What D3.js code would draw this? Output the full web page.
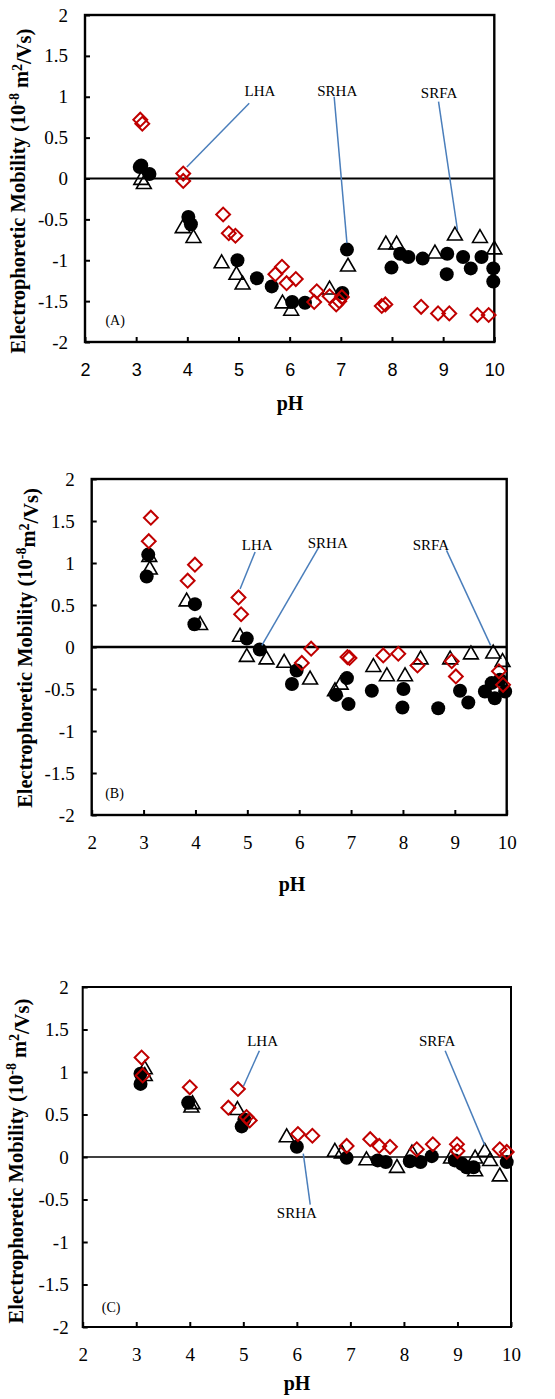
<!DOCTYPE html>
<html>
<head>
<meta charset="utf-8">
<script src="https://cdn.jsdelivr.net/npm/d3@7"></script>
<style>
  body { margin: 0; background: #fff; }
  svg { display: block; }
</style>
</head>
<body>
<svg id="chart" width="555" height="1399"></svg>
<script>
//  Data  //
var xTicks = [2, 3, 4, 5, 6, 7, 8, 9, 10];
var yTicks = [-2, -1.5, -1, -0.5, 0, 0.5, 1, 1.5, 2];
var panelNames = ["(A)", "(B)", "(C)"];

// panel A  [pH, mobility]
var srhaA = [[3.07,0.14],[3.1,0.16],[3.26,0.055],[4.02,-0.47],[4.07,-0.56],[4.98,-1.0],[5.36,-1.22],[5.65,-1.32],
             [6.05,-1.51],[6.3,-1.52],[7.03,-1.4],[7.12,-0.87],[7.99,-1.09],[8.16,-0.92],[8.32,-0.96],[8.6,-0.98],
             [9.08,-0.92],[9.07,-1.17],[9.39,-0.96],[9.54,-1.1],[9.75,-0.96],[9.98,-1.1],[9.98,-1.26]];
var srfaA = [[3.1,-0.02],[3.15,-0.07],[3.91,-0.61],[4.12,-0.73],[4.67,-1.04],[4.96,-1.18],[5.08,-1.3],[5.86,-1.53],
             [6.03,-1.62],[6.78,-1.36],[7.14,-1.08],[7.88,-0.81],[8.09,-0.81],[8.84,-0.92],[9.23,-0.7],[9.72,-0.73],[10.0,-0.87]];
var lhaA  = [[3.08,0.72],[3.12,0.67],[3.92,0.06],[3.92,-0.03],[4.7,-0.44],[4.81,-0.67],[4.94,-0.7],[5.72,-1.17],
             [5.85,-1.08],[5.94,-1.28],[6.12,-1.23],[6.53,-1.38],[6.48,-1.51],[6.78,-1.44],[6.91,-1.54],[6.97,-1.5],
             [7.02,-1.45],[7.8,-1.56],[7.87,-1.54],[8.57,-1.57],[8.9,-1.65],[9.12,-1.65],[9.67,-1.67],[9.89,-1.67]];

// panel B
var srhaB = [[3.06,0.84],[3.09,1.1],[3.99,0.51],[3.98,0.27],[4.99,0.1],[5.24,-0.03],[5.95,-0.28],[5.86,-0.44],
             [6.71,-0.57],[6.92,-0.37],[6.95,-0.68],[7.4,-0.52],[8.01,-0.5],[7.99,-0.72],[8.68,-0.73],[9.1,-0.52],
             [9.26,-0.66],[9.58,-0.53],[9.71,-0.43],[9.77,-0.61],[9.87,-0.39],[9.97,-0.53]];
var srfaB = [[3.11,1.07],[3.12,0.92],[3.83,0.54],[4.09,0.26],[4.86,0.12],[4.99,-0.12],[5.37,-0.15],[5.71,-0.19],
             [6.21,-0.39],[6.69,-0.53],[6.8,-0.45],[7.43,-0.24],[7.69,-0.35],[8.04,-0.35],[8.34,-0.15],[8.91,-0.15],
             [9.31,-0.09],[9.74,-0.08],[9.92,-0.18]];
var lhaB  = [[3.14,1.54],[3.1,1.26],[3.99,0.98],[3.85,0.79],[4.83,0.59],[4.88,0.39],[6.05,-0.19],[6.23,-0.02],
             [6.93,-0.12],[6.97,-0.13],[7.62,-0.1],[7.91,-0.08],[8.28,-0.22],[8.94,-0.17],[9.02,-0.35],[9.85,-0.29],[9.93,-0.45]];

// panel C
var srhaC = [[3.08,0.86],[3.08,0.98],[3.97,0.64],[4.97,0.36],[5.02,0.44],[6.0,0.12],[6.93,-0.01],[7.51,-0.04],
             [7.66,-0.06],[8.11,-0.05],[8.31,-0.06],[8.52,0.01],[8.95,-0.04],[9.08,-0.08],[9.17,-0.12],[9.3,-0.12],[9.92,-0.06]];
var srfaC = [[3.16,1.03],[3.16,0.95],[4.05,0.62],[4.03,0.58],[4.89,0.55],[5.81,0.23],[6.71,0.06],[6.84,0.04],
             [7.3,-0.04],[7.87,-0.13],[8.15,0.04],[8.88,-0.02],[9.33,-0.02],[9.33,-0.17],[9.51,0.06],[9.61,-0.05],[9.79,-0.23]];
var lhaC  = [[3.1,1.17],[3.12,0.96],[4.0,0.82],[4.72,0.58],[4.9,0.8],[5.06,0.47],[5.12,0.43],[6.02,0.27],
             [6.29,0.25],[6.93,0.13],[7.37,0.21],[7.54,0.13],[7.74,0.12],[8.24,0.09],[8.54,0.15],[8.99,0.15],
             [9.0,0.07],[9.79,0.09],[9.92,0.06]];

// callouts: label, text at, line from, line to (pH, mobility)
var notesA = [["LHA",[5.42,1.07],[5.21,0.92],[3.99,0.14]],
              ["SRHA",[6.93,1.07],[6.87,1.0],[7.12,-0.79]],
              ["SRFA",[8.92,1.05],[8.91,0.94],[9.28,-0.63]]];
var notesB = [["LHA",[5.19,1.22],[5.15,1.13],[4.86,0.69]],
              ["SRHA",[6.55,1.24],[6.39,1.2],[5.28,0.02]],
              ["SRFA",[8.54,1.22],[8.84,1.15],[9.69,0.02]]];
var notesC = [["LHA",[5.36,1.37],[5.3,1.25],[5.0,0.83]],
              ["SRFA",[8.62,1.37],[8.77,1.25],[9.51,0.14]],
              ["SRHA",[6.0,-0.66],[6.12,0.04],[6.25,-0.56]]];
var letterPos = [[2.59,-1.73],[2.44,-1.74],[2.53,-1.76]];

//  Layout  //
var serif = "'Liberation Serif', 'Times New Roman', serif";
var panels = [
  {l:85, r:494.3, t:15, b:342, srha:srhaA, srfa:srfaA, lha:lhaA, notes:notesA, sup:" m",
   titleX:18, titleY:191, phX:290, phY:410, xFont:"'Liberation Sans', Arial, sans-serif", xSize:18, frame:2.4, zero:2, yGap:17},
  {l:91.7, r:506.7, t:479, b:815, srha:srhaB, srfa:srfaB, lha:lhaB, notes:notesB, sup:"m",
   titleX:25, titleY:648, phX:292, phY:891, xFont:serif, xSize:19, frame:2.4, zero:2.4, yGap:17},
  {l:82.7, r:511, t:987, b:1327, srha:srhaC, srfa:srfaC, lha:lhaC, notes:notesC, sup:" m",
   titleX:15.5, titleY:1161, phX:297, phY:1390, xFont:serif, xSize:19, frame:2, zero:1.5, yGap:14}
];

var svg = d3.select("#chart");
svg.append("rect").attr("width", 555).attr("height", 1399).attr("fill", "#fff");

panels.forEach(function(p, k){
    var g = svg.append("g");
    var x = d3.scaleLinear().domain([2, 10]).range([p.l, p.r]);
    var y = d3.scaleLinear().domain([-2, 2]).range([p.b, p.t]);

    //  Axis  //
    var axisX = d3.axisBottom(x).tickValues(xTicks).tickSizeInner(-5).tickSizeOuter(0).tickPadding(21)
                  .tickFormat(function(d){ return String(d); });
    var gx = g.append("g").attr("transform", "translate(0," + p.b + ")").call(axisX);
    gx.select(".domain").remove();
    gx.selectAll("line").attr("stroke", "#000").attr("stroke-width", 2);
    gx.selectAll("text").attr("font-family", p.xFont).attr("font-size", p.xSize).attr("fill", "#000");

    var axisY = d3.axisLeft(y).tickValues(yTicks).tickSizeInner(-5).tickSizeOuter(0).tickPadding(p.yGap)
                  .tickFormat(function(d){ return String(d); });
    var gy = g.append("g").attr("transform", "translate(" + p.l + ",0)").call(axisY);
    gy.select(".domain").remove();
    gy.selectAll("line").attr("stroke", "#000").attr("stroke-width", 2);
    gy.selectAll("text").attr("font-family", serif).attr("font-size", 19).attr("fill", "#000");

    // zero line
    g.append("line").attr("x1", x(2)).attr("x2", x(10)).attr("y1", y(0)).attr("y2", y(0))
        .attr("stroke", "#000").attr("stroke-width", p.zero);

    // frame
    g.append("rect").attr("x", x(2)).attr("y", y(2)).attr("width", x(10) - x(2)).attr("height", y(-2) - y(2))
        .attr("fill", "none").attr("stroke", "#000").attr("stroke-width", p.frame);

    //  Points  //
    g.selectAll(".srha").data(p.srha).enter().append("circle")
        .attr("cx", function(d){ return x(d[0]); }).attr("cy", function(d){ return y(d[1]); })
        .attr("r", 7).attr("fill", "#000");

    var tri = d3.symbol().type(d3.symbolTriangle).size(95);
    g.selectAll(".srfa").data(p.srfa).enter().append("path")
        .attr("d", tri).attr("transform", function(d){ return "translate(" + x(d[0]) + "," + y(d[1]) + ")"; })
        .attr("fill", "none").attr("stroke", "#000").attr("stroke-width", 1.6);

    var dia = d3.symbol().type(d3.symbolSquare).size(96);
    g.selectAll(".lha").data(p.lha).enter().append("path")
        .attr("d", dia).attr("transform", function(d){ return "translate(" + x(d[0]) + "," + y(d[1]) + ") rotate(45)"; })
        .attr("fill", "none").attr("stroke", "#C00000").attr("stroke-width", 2);

    //  Callouts  //
    p.notes.forEach(function(n){
        g.append("line").attr("x1", x(n[2][0])).attr("y1", y(n[2][1])).attr("x2", x(n[3][0])).attr("y2", y(n[3][1]))
            .attr("stroke", "#4A7EBB").attr("stroke-width", 1.5);
        g.append("text").attr("x", x(n[1][0])).attr("y", y(n[1][1])).attr("dy", "0.35em")
            .attr("text-anchor", "middle").attr("font-family", serif).attr("font-size", 15).text(n[0]);
    });

    g.append("text").attr("x", x(letterPos[k][0])).attr("y", y(letterPos[k][1])).attr("dy", "0.35em")
        .attr("text-anchor", "middle").attr("font-family", serif).attr("font-size", 14).text(panelNames[k]);

    //  Titles  //
    g.append("text").attr("x", p.phX).attr("y", p.phY).attr("text-anchor", "middle")
        .attr("font-family", serif).attr("font-size", 20).attr("font-weight", "bold").text("pH");

    var t = g.append("text").attr("transform", "translate(" + p.titleX + "," + p.titleY + ") rotate(-90)")
        .attr("dy", "0.35em").attr("text-anchor", "middle")
        .attr("font-family", serif).attr("font-size", 20.5).attr("font-weight", "bold");
    t.append("tspan").text("Electrophoretic Mobility (10");
    t.append("tspan").attr("dy", "-0.45em").attr("font-size", 14).text("-8");
    t.append("tspan").attr("dy", "0.45em").text(p.sup);
    t.append("tspan").attr("dy", "-0.45em").attr("font-size", 14).text("2");
    t.append("tspan").attr("dy", "0.45em").text("/Vs)");
});
</script>
</body>
</html>
